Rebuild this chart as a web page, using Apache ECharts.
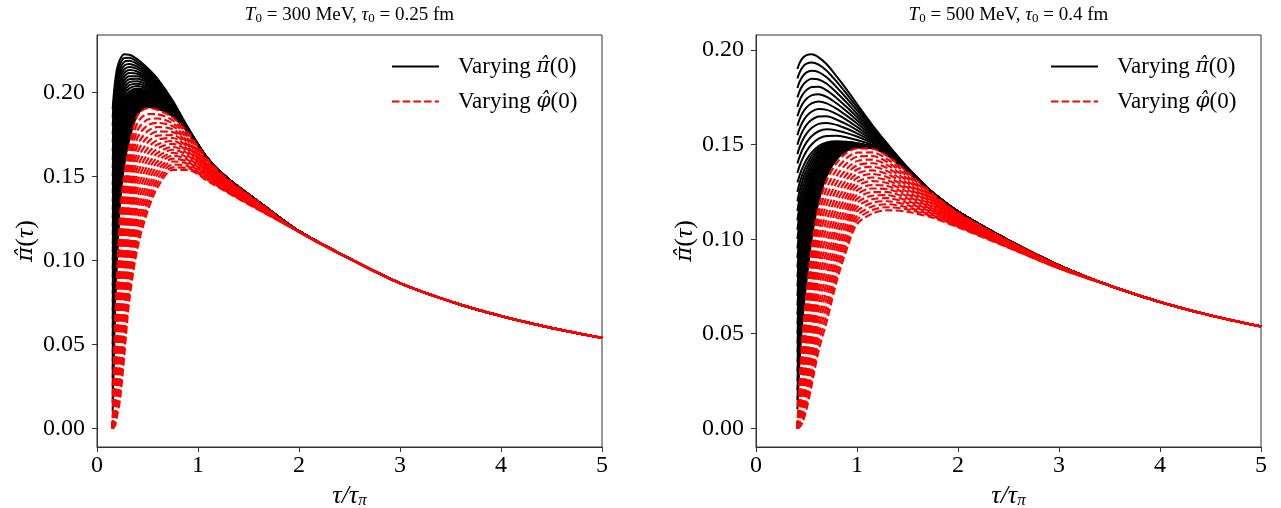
<!DOCTYPE html>
<html>
<head>
<meta charset="utf-8">
<script src="https://cdn.jsdelivr.net/npm/echarts@6/dist/echarts.min.js"></script>
<style>
  html, body { margin: 0; padding: 0; background: #fff; }
  #chart { width: 1281px; height: 508px; }
</style>
</head>
<body>
<div id="chart"></div>
<script>
// ---- Bjorken-flow relaxation of the normalised shear stress, two initial conditions ----
const LABEL_PI = 'Varying \u03C0\u0302(0)';
const LABEL_PHI = 'Varying \u03C6\u0302(0)';
const xTicks = [0, 1, 2, 3, 4, 5];
const yTicks = [0, 0.05, 0.10, 0.15, 0.20];

// Starting values of pi-hat for the black family (one entry per curve)
const pi0Values = [.19,.185,.18,.175,.17,.165,.16,.155,.15,.145,.14,.135,.13,.125,.12,.115,.11,.105,.10,.095,.09,.085,.08,.075,.07,.065,.06,.055,.05,.045,.04,.035,.03,.025,.02,.015,.01];
const redStart = [0,0,0,0,0,0,0,0,0,0,0,0,0,0,0,0,0,0,0];

// ===== Left panel: T0 = 300 MeV, tau0 = 0.25 fm =====
const leftBlackX = [0.155, 0.165, 0.18, 0.20, 0.23, 0.27, 0.32, 0.40, 0.50, 0.60, 0.75, 0.90];
// each row: values of all black curves at one tau/tau_pi
const leftBlackCols = [
  pi0Values,
  [.1980,.1934,.1888,.1841,.1795,.1749,.1703,.1656,.1610,.1564,.1518,.1471,.1425,.1382,.1340,.1297,.1254,.1211,.1169,.1126,.1083,.1041,.0998,.0955,.0912,.0870,.0827,.0784,.0742,.0699,.0656,.0613,.0571,.0528,.0485,.0443,.0400],
  [.2070,.2030,.1990,.1950,.1910,.1870,.1830,.1790,.1750,.1710,.1670,.1630,.1590,.1555,.1520,.1485,.1450,.1415,.1380,.1345,.1310,.1275,.1240,.1205,.1170,.1135,.1100,.1065,.1030,.0995,.0960,.0925,.0890,.0855,.0820,.0785,.0750],
  [.2145,.2112,.2078,.2045,.2012,.1978,.1945,.1912,.1878,.1845,.1812,.1778,.1745,.1715,.1685,.1654,.1624,.1594,.1564,.1534,.1503,.1473,.1443,.1413,.1383,.1352,.1322,.1292,.1262,.1231,.1201,.1171,.1141,.1111,.1080,.1050,.1020],
  [.2198,.2171,.2144,.2117,.2090,.2063,.2036,.2010,.1983,.1956,.1929,.1902,.1875,.1854,.1832,.1811,.1789,.1768,.1746,.1725,.1704,.1682,.1661,.1639,.1618,.1596,.1575,.1553,.1532,.1511,.1489,.1468,.1446,.1425,.1403,.1382,.1360],
  [.2226,.2204,.2182,.2159,.2137,.2115,.2093,.2071,.2049,.2026,.2004,.1982,.1960,.1944,.1928,.1911,.1895,.1879,.1863,.1846,.1830,.1814,.1798,.1781,.1765,.1749,.1733,.1716,.1700,.1684,.1668,.1651,.1635,.1619,.1603,.1586,.1570],
  [.2224,.2206,.2188,.2169,.2151,.2133,.2115,.2096,.2078,.2060,.2042,.2023,.2005,.1993,.1981,.1969,.1958,.1946,.1934,.1922,.1910,.1898,.1886,.1874,.1863,.1851,.1839,.1827,.1815,.1803,.1791,.1779,.1768,.1756,.1744,.1732,.1720],
  [.2197,.2182,.2168,.2153,.2139,.2124,.2110,.2095,.2080,.2066,.2051,.2037,.2022,.2016,.2009,.2003,.1996,.1990,.1983,.1977,.1971,.1964,.1958,.1951,.1945,.1939,.1932,.1926,.1919,.1913,.1906,.1900,.1894,.1887,.1881,.1874,.1868],
  [.2145,.2134,.2123,.2111,.2100,.2089,.2078,.2066,.2055,.2044,.2033,.2021,.2010,.2006,.2002,.1998,.1994,.1990,.1986,.1981,.1977,.1973,.1969,.1965,.1961,.1957,.1953,.1949,.1945,.1941,.1937,.1932,.1928,.1924,.1920,.1916,.1912],
  [.2080,.2071,.2063,.2054,.2045,.2036,.2028,.2019,.2010,.2001,.1993,.1984,.1975,.1972,.1969,.1966,.1963,.1960,.1957,.1954,.1951,.1948,.1945,.1942,.1939,.1935,.1932,.1929,.1926,.1923,.1920,.1917,.1914,.1911,.1908,.1905,.1902],
  [.1950,.1945,.1941,.1936,.1932,.1927,.1923,.1918,.1913,.1909,.1904,.1900,.1895,.1893,.1892,.1890,.1889,.1887,.1886,.1884,.1882,.1881,.1879,.1878,.1876,.1874,.1873,.1871,.1870,.1868,.1866,.1865,.1863,.1862,.1860,.1859,.1857],
  [.1790,.1789,.1787,.1786,.1784,.1783,.1781,.1780,.1779,.1777,.1776,.1774,.1773,.1773,.1772,.1772,.1771,.1771,.1771,.1770,.1770,.1769,.1769,.1769,.1768,.1768,.1767,.1767,.1767,.1766,.1766,.1765,.1765,.1765,.1764,.1764,.1763]
];
// black curves have merged by here: one common trace
const leftBlackTailX = [1.1, 1.3, 1.6, 2.0, 2.5, 3.0, 3.5, 4.0, 4.5, 5.0];
const leftBlackTailY = [.1602, .1483, .1348, .1173, .1010, .0864, .0755, .0668, .0597, .0538];

const leftRedX = [0.155, 0.165, 0.18, 0.20, 0.23, 0.27, 0.32, 0.40, 0.50, 0.60, 0.75, 0.90, 1.10, 1.30, 1.60];
const leftRedCols = [
  redStart,
  [.0280,.0265,.0249,.0234,.0218,.0203,.0188,.0172,.0157,.0142,.0126,.0111,.0095,.0080,.0065,.0049,.0034,.0018,.0003],
  [.0640,.0605,.0571,.0536,.0502,.0467,.0433,.0398,.0364,.0329,.0294,.0260,.0225,.0191,.0156,.0122,.0087,.0053,.0018],
  [.0920,.0873,.0826,.0779,.0732,.0685,.0638,.0591,.0544,.0498,.0451,.0404,.0357,.0310,.0263,.0216,.0169,.0122,.0075],
  [.1290,.1228,.1167,.1105,.1043,.0982,.0920,.0858,.0797,.0735,.0673,.0612,.0550,.0488,.0427,.0365,.0303,.0242,.0180],
  [.1510,.1450,.1390,.1330,.1270,.1210,.1150,.1090,.1030,.0970,.0910,.0850,.0790,.0730,.0670,.0610,.0550,.0490,.0430],
  [.1680,.1629,.1578,.1527,.1476,.1424,.1373,.1322,.1271,.1220,.1169,.1118,.1067,.1016,.0964,.0913,.0862,.0811,.0760],
  [.1860,.1816,.1772,.1728,.1684,.1641,.1597,.1553,.1509,.1465,.1421,.1377,.1333,.1289,.1246,.1202,.1158,.1114,.1070],
  [.1905,.1871,.1837,.1803,.1768,.1734,.1700,.1666,.1632,.1598,.1563,.1529,.1495,.1461,.1427,.1393,.1358,.1324,.1290],
  [.1895,.1869,.1844,.1818,.1793,.1767,.1742,.1716,.1690,.1665,.1639,.1614,.1588,.1563,.1537,.1512,.1486,.1461,.1435],
  [.1850,.1833,.1815,.1798,.1780,.1763,.1745,.1728,.1710,.1693,.1675,.1658,.1640,.1623,.1605,.1588,.1570,.1553,.1538],
  [.1760,.1748,.1735,.1723,.1710,.1698,.1685,.1673,.1660,.1648,.1635,.1623,.1610,.1598,.1585,.1573,.1560,.1548,.1538],
  [.1597,.1590,.1583,.1576,.1569,.1562,.1555,.1548,.1541,.1533,.1526,.1519,.1512,.1505,.1498,.1491,.1484,.1477,.1470],
  [.1480,.1476,.1471,.1467,.1462,.1458,.1453,.1449,.1444,.1440,.1436,.1431,.1427,.1422,.1418,.1413,.1409,.1404,.1400],
  [.1346,.1343,.1341,.1338,.1336,.1333,.1331,.1328,.1326,.1323,.1320,.1318,.1315,.1313,.1310,.1308,.1305,.1303,.1300]
];
const leftRedTailX = [2.0, 2.5, 3.0, 3.5, 4.0, 4.5, 5.0];
const leftRedTailY = [.1170, .1010, .0864, .0755, .0668, .0597, .0538];

// ===== Right panel: T0 = 500 MeV, tau0 = 0.4 fm =====
const rightBlackX = [0.41, 0.43, 0.46, 0.50, 0.55, 0.62, 0.70, 0.80, 0.90, 1.00, 1.15, 1.30, 1.50];
const rightBlackCols = [
  pi0Values,
  [.1930,.1880,.1831,.1781,.1732,.1682,.1632,.1583,.1533,.1484,.1434,.1385,.1335,.1294,.1252,.1211,.1169,.1128,.1086,.1045,.1003,.0962,.0920,.0879,.0838,.0796,.0755,.0713,.0672,.0630,.0589,.0547,.0506,.0464,.0423,.0381,.0340],
  [.1957,.1909,.1860,.1812,.1764,.1715,.1667,.1619,.1570,.1522,.1474,.1425,.1377,.1343,.1310,.1276,.1242,.1209,.1175,.1142,.1108,.1074,.1041,.1007,.0973,.0940,.0906,.0873,.0839,.0805,.0772,.0738,.0704,.0671,.0637,.0604,.0570],
  [.1974,.1928,.1882,.1835,.1789,.1743,.1697,.1651,.1605,.1558,.1512,.1466,.1420,.1393,.1367,.1340,.1313,.1287,.1260,.1233,.1207,.1180,.1153,.1127,.1100,.1073,.1047,.1020,.0993,.0967,.0940,.0913,.0887,.0860,.0833,.0807,.0780],
  [.1978,.1935,.1891,.1848,.1805,.1761,.1718,.1675,.1631,.1588,.1545,.1501,.1458,.1439,.1420,.1401,.1382,.1363,.1344,.1324,.1305,.1286,.1267,.1248,.1229,.1210,.1191,.1172,.1153,.1134,.1115,.1096,.1076,.1057,.1038,.1019,.1000],
  [.1962,.1923,.1884,.1845,.1806,.1767,.1728,.1688,.1649,.1610,.1571,.1532,.1493,.1481,.1469,.1456,.1444,.1432,.1420,.1408,.1395,.1383,.1371,.1359,.1346,.1334,.1322,.1310,.1298,.1285,.1273,.1261,.1249,.1237,.1224,.1212,.1200],
  [.1925,.1891,.1856,.1822,.1787,.1753,.1718,.1684,.1650,.1615,.1581,.1546,.1512,.1505,.1497,.1490,.1483,.1475,.1468,.1460,.1453,.1446,.1438,.1431,.1424,.1416,.1409,.1401,.1394,.1387,.1379,.1372,.1365,.1357,.1350,.1342,.1335],
  [.1860,.1832,.1803,.1775,.1746,.1718,.1689,.1661,.1632,.1604,.1575,.1547,.1518,.1514,.1510,.1506,.1502,.1499,.1495,.1491,.1487,.1483,.1479,.1475,.1471,.1468,.1464,.1460,.1456,.1452,.1448,.1444,.1440,.1437,.1433,.1429,.1425],
  [.1790,.1767,.1744,.1721,.1698,.1675,.1652,.1630,.1607,.1584,.1561,.1538,.1515,.1513,.1511,.1509,.1507,.1505,.1503,.1501,.1499,.1497,.1495,.1493,.1491,.1490,.1488,.1486,.1484,.1482,.1480,.1478,.1476,.1474,.1472,.1470,.1468],
  [.1715,.1698,.1681,.1663,.1646,.1629,.1612,.1594,.1577,.1560,.1543,.1525,.1508,.1507,.1506,.1505,.1504,.1503,.1502,.1501,.1500,.1499,.1498,.1497,.1497,.1496,.1495,.1494,.1493,.1492,.1491,.1490,.1489,.1488,.1487,.1486,.1485],
  [.1605,.1595,.1586,.1576,.1567,.1557,.1548,.1538,.1528,.1519,.1509,.1500,.1490,.1490,.1489,.1489,.1489,.1488,.1488,.1488,.1487,.1487,.1487,.1486,.1486,.1486,.1485,.1485,.1485,.1484,.1484,.1484,.1483,.1483,.1483,.1482,.1482],
  [.1505,.1501,.1498,.1494,.1491,.1487,.1484,.1480,.1476,.1473,.1469,.1466,.1462,.1461,.1461,.1460,.1459,.1458,.1458,.1457,.1456,.1456,.1455,.1454,.1454,.1453,.1452,.1451,.1451,.1450,.1449,.1449,.1448,.1447,.1446,.1446,.1445],
  [.1380,.1379,.1378,.1376,.1375,.1374,.1373,.1371,.1370,.1369,.1368,.1366,.1365,.1365,.1364,.1364,.1364,.1364,.1363,.1363,.1363,.1362,.1362,.1362,.1361,.1361,.1361,.1361,.1360,.1360,.1360,.1359,.1359,.1359,.1359,.1358,.1358]
];
const rightBlackTailX = [1.75, 2.0, 2.5, 3.0, 3.5, 4.0, 4.5, 5.0];
const rightBlackTailY = [.1246, .1146, .0994, .0862, .0755, .0668, .0597, .0538];

const rightRedX = [0.41, 0.43, 0.46, 0.50, 0.55, 0.62, 0.70, 0.80, 0.90, 1.00, 1.15, 1.30, 1.50, 1.75, 2.00, 2.50, 3.00];
const rightRedCols = [
  redStart,
  [.0230,.0218,.0205,.0193,.0180,.0168,.0155,.0143,.0130,.0118,.0105,.0093,.0080,.0068,.0055,.0043,.0030,.0018,.0005],
  [.0480,.0455,.0430,.0405,.0380,.0355,.0330,.0305,.0280,.0255,.0230,.0205,.0180,.0155,.0130,.0105,.0080,.0055,.0030],
  [.0710,.0676,.0642,.0608,.0574,.0541,.0507,.0473,.0439,.0405,.0371,.0337,.0303,.0269,.0236,.0202,.0168,.0134,.0100],
  [.0950,.0910,.0869,.0829,.0789,.0749,.0708,.0668,.0628,.0588,.0547,.0507,.0467,.0426,.0386,.0346,.0306,.0265,.0225],
  [.1170,.1128,.1086,.1043,.1001,.0959,.0917,.0874,.0832,.0790,.0748,.0706,.0663,.0621,.0579,.0537,.0494,.0452,.0410],
  [.1310,.1269,.1227,.1186,.1144,.1103,.1062,.1020,.0979,.0937,.0896,.0855,.0813,.0772,.0731,.0689,.0648,.0606,.0565],
  [.1405,.1370,.1336,.1301,.1266,.1231,.1197,.1162,.1127,.1093,.1058,.1023,.0988,.0954,.0919,.0884,.0849,.0815,.0780],
  [.1458,.1430,.1402,.1373,.1345,.1317,.1289,.1260,.1232,.1204,.1176,.1148,.1119,.1091,.1063,.1035,.1006,.0978,.0950],
  [.1480,.1458,.1436,.1413,.1391,.1369,.1347,.1324,.1302,.1280,.1258,.1236,.1213,.1191,.1169,.1147,.1124,.1102,.1080],
  [.1478,.1459,.1440,.1421,.1402,.1383,.1364,.1345,.1326,.1307,.1287,.1268,.1249,.1230,.1211,.1192,.1173,.1154,.1135],
  [.1440,.1424,.1408,.1392,.1376,.1360,.1344,.1328,.1312,.1297,.1281,.1265,.1249,.1233,.1217,.1201,.1185,.1169,.1153],
  [.1355,.1343,.1332,.1320,.1308,.1297,.1285,.1273,.1262,.1250,.1238,.1227,.1215,.1203,.1192,.1180,.1168,.1157,.1145],
  [.1240,.1233,.1226,.1219,.1212,.1205,.1198,.1191,.1184,.1176,.1169,.1162,.1155,.1148,.1141,.1134,.1127,.1120,.1113],
  [.1140,.1136,.1131,.1127,.1123,.1119,.1114,.1110,.1106,.1101,.1097,.1093,.1089,.1084,.1080,.1076,.1071,.1067,.1063],
  [.0992,.0990,.0988,.0986,.0984,.0982,.0980,.0978,.0976,.0974,.0971,.0969,.0967,.0965,.0963,.0961,.0959,.0957,.0955],
  [.0861,.0860,.0859,.0858,.0857,.0857,.0856,.0855,.0854,.0853,.0852,.0851,.0850,.0849,.0849,.0848,.0847,.0846,.0845]
];
const rightRedTailX = [3.5, 4.0, 4.5, 5.0];
const rightRedTailY = [.0755, .0668, .0597, .0538];

// ---- styling ----
const FONT = 'Liberation Serif';
const MATH = 'DejaVu Serif';
const panelTitles = [
  '{i|T}{s|0}{r| = 300 MeV, }{i|\u03C4}{s|0}{r| = 0.25 fm}',
  '{i|T}{s|0}{r| = 500 MeV, }{i|\u03C4}{s|0}{r| = 0.4 fm}'
];
const gridLefts = [97, 756];
const yRanges = [[-0.01115, 0.2341], [-0.0099, 0.2080]];

function family(xs, cols, tailX, tailY, gridIndex, name, lineStyle, z) {
  const count = cols[0].length;
  const list = [];
  for (let k = 0; k < count; k++) {
    const data = xs.map((x, i) => [x, cols[i][k]]);
    tailX.forEach((x, i) => data.push([x, tailY[i]]));
    list.push({
      type: 'line', name, xAxisIndex: gridIndex, yAxisIndex: gridIndex,
      data, symbol: 'none', smooth: 0.3,
      lineStyle, itemStyle: { color: lineStyle.color, opacity: 0 },
      z, silent: true, animation: false
    });
  }
  return list;
}

const blackStyle = { color: '#000', width: 2 };
const redStyle = { color: '#ff0000', width: 2.1, type: [7.5, 3.2] };

const series = [].concat(
  family(leftBlackX, leftBlackCols, leftBlackTailX, leftBlackTailY, 0, LABEL_PI, blackStyle, 2),
  family(rightBlackX, rightBlackCols, rightBlackTailX, rightBlackTailY, 1, LABEL_PI, blackStyle, 2),
  family(leftRedX, leftRedCols, leftRedTailX, leftRedTailY, 0, LABEL_PHI, redStyle, 3),
  family(rightRedX, rightRedCols, rightRedTailX, rightRedTailY, 1, LABEL_PHI, redStyle, 3)
);

const axisNameRich = {
  r: { fontFamily: FONT, fontSize: 26, color: '#000' },
  i: { fontFamily: FONT, fontSize: 26, fontStyle: 'italic', color: '#000' },
  h: { fontFamily: MATH, fontSize: 23, fontStyle: 'italic', color: '#000' },
  s: { fontFamily: FONT, fontSize: 17, fontStyle: 'italic', color: '#000', verticalAlign: 'bottom', lineHeight: 12 }
};

const option = {
  backgroundColor: '#fff',
  animation: false,
  textStyle: { fontFamily: FONT, color: '#000' },
  grid: gridLefts.map(l => ({
    left: l, top: 35, width: 505, height: 412, show: true, containLabel: false,
    outerBoundsMode: 'none',
    borderColor: '#333', borderWidth: 1, backgroundColor: 'transparent'
  })),
  xAxis: [0, 1].map(g => ({
    type: 'value', gridIndex: g, min: 0, max: 5, interval: 1,
    name: '{i|\u03C4/\u03C4}{s|\u03C0}', nameLocation: 'middle', nameGap: 28,
    nameTextStyle: { rich: axisNameRich },
    axisLine: { show: true, onZero: false, lineStyle: { color: '#333', width: 1 } },
    axisTick: { show: true, inside: false, length: 5, lineStyle: { color: '#333', width: 1 } },
    axisLabel: { fontFamily: FONT, fontSize: 24, color: '#000', margin: 7,
                 customValues: xTicks, formatter: v => String(v) },
    splitLine: { show: false }
  })),
  yAxis: [0, 1].map(g => ({
    type: 'value', gridIndex: g, min: yRanges[g][0], max: yRanges[g][1],
    name: '{h|\u03C0\u0302}{r|(}{i|\u03C4}{r|)}', nameLocation: 'middle', nameGap: 46, nameRotate: 90,
    nameTextStyle: { rich: axisNameRich },
    axisLine: { show: true, onZero: false, lineStyle: { color: '#333', width: 1 } },
    axisTick: { show: true, inside: false, length: 5, customValues: yTicks,
                lineStyle: { color: '#333', width: 1 } },
    axisLabel: { fontFamily: FONT, fontSize: 24, color: '#000', margin: 12,
                 customValues: yTicks, formatter: v => v.toFixed(2) },
    splitLine: { show: false }
  })),
  legend: [391, 1050].map(l => ({
    data: [LABEL_PI, LABEL_PHI], orient: 'vertical', left: l, top: 55, padding: 0,
    itemWidth: 47, itemHeight: 22, itemGap: 12, selectedMode: false,
    itemStyle: { opacity: 0 },
    formatter: n => n === LABEL_PI ? '{g|Varying }{m|\u03C0\u0302}{r|(0)}' : '{g|Varying }{m|\u03C6\u0302}{r|(0)}',
    textStyle: {
      rich: {
        g: { fontFamily: FONT, fontSize: 23, color: '#000', padding: [0, 0, 0, 14] },
        r: { fontFamily: FONT, fontSize: 23, color: '#000' },
        m: { fontFamily: MATH, fontSize: 20, fontStyle: 'italic', color: '#000' }
      }
    }
  })),
  graphic: panelTitles.map((t, g) => ({
    type: 'text', x: gridLefts[g] + 252.5, y: 15, silent: true,
    style: {
      text: t, align: 'center', verticalAlign: 'middle', fill: '#000',
      rich: {
        r: { fontFamily: FONT, fontSize: 19, lineHeight: 20, fill: '#000' },
        i: { fontFamily: FONT, fontSize: 19, lineHeight: 20, fontStyle: 'italic', fill: '#000' },
        s: { fontFamily: FONT, fontSize: 13, lineHeight: 8, verticalAlign: 'bottom', fill: '#000' }
      }
    }
  })),
  series
};

const chart = echarts.init(document.getElementById('chart'), null, { renderer: 'canvas' });
chart.setOption(option);
</script>
</body>
</html>
